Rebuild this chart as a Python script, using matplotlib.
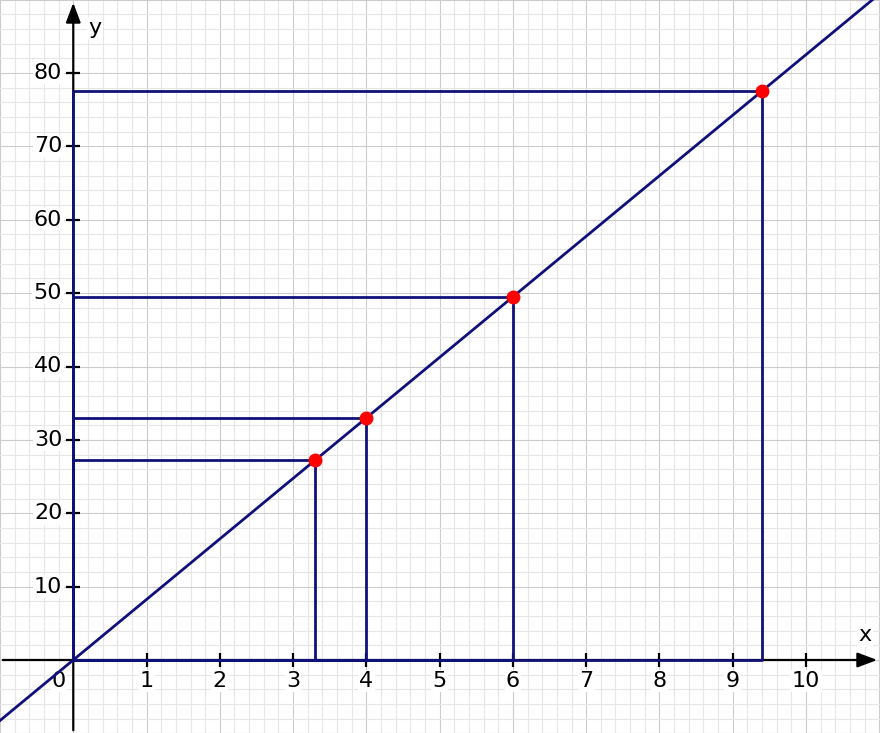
import numpy as np
import matplotlib.pyplot as plt

# points on the line y = 8.25x
px = [3.3, 4, 6, 9.4]
py = [27.3, 33, 49.5, 77.6]

line_x = [-1, 11]
line_y = [-8.25, 90.75]

xticks = [1, 2, 3, 4, 5, 6, 7, 8, 9, 10]
yticks = [10, 20, 30, 40, 50, 60, 70, 80]

navy = '#10107a'

fig = plt.figure(figsize=(8.8, 7.33), dpi=100)
ax = fig.add_axes([0, 0, 1, 1])
ax.set_xlim(-1, 11.01)
ax.set_ylim(-9.95, 89.95)
for s in ax.spines.values():
    s.set_visible(False)
ax.set_xticks([])
ax.set_yticks([])

# grid paper
for gx in np.arange(-1, 11.01, 0.2):
    major = abs(gx - round(gx)) < 1e-6
    ax.axvline(gx, color='#cccccc' if major else '#e6e6e6', lw=0.8, zorder=0)
for gy in np.arange(-10, 90.1, 2):
    major = abs(gy / 10 - round(gy / 10)) < 1e-6
    ax.axhline(gy, color='#cccccc' if major else '#e6e6e6', lw=0.8, zorder=0)

# axes with arrows
arrow = dict(arrowstyle='-|>,head_length=1.2,head_width=0.45', color='black', lw=1.6)
ax.annotate('', xy=(11.01, 0), xytext=(-1, 0), arrowprops=arrow, zorder=2)
ax.annotate('', xy=(0, 89.95), xytext=(0, -9.95), arrowprops=arrow, zorder=2)

ax.plot(xticks, [0] * len(xticks), ls='none', marker='|', ms=10, mew=1.6, color='black', zorder=2)
ax.plot([0] * len(yticks), yticks, ls='none', marker='_', ms=10, mew=1.6, color='black', zorder=2)

box = dict(facecolor='white', edgecolor='none', pad=1)
fs = 16
for t in xticks:
    ax.text(t, -1.5, str(t), ha='center', va='top', fontsize=fs, bbox=box)
for t in yticks:
    ax.text(-0.15, t, str(t), ha='right', va='center', fontsize=fs, bbox=box)
ax.text(-0.2, -1.5, '0', ha='center', va='top', fontsize=fs, bbox=box)
ax.text(10.8, 2.0, 'x', ha='center', va='bottom', fontsize=fs, bbox=box)
ax.text(0.3, 86.1, 'y', ha='center', va='center', fontsize=fs, bbox=box)

# the line and the rectangles
ax.plot(line_x, line_y, color=navy, lw=2, zorder=3)
for x, y in zip(px, py):
    ax.plot([0, x, x, 0, 0], [0, 0, y, y, 0], color=navy, lw=2, zorder=3)
ax.plot(px, py, 'o', color='#ff0000', ms=9, zorder=4)

fig.savefig('out.png', dpi=100)
